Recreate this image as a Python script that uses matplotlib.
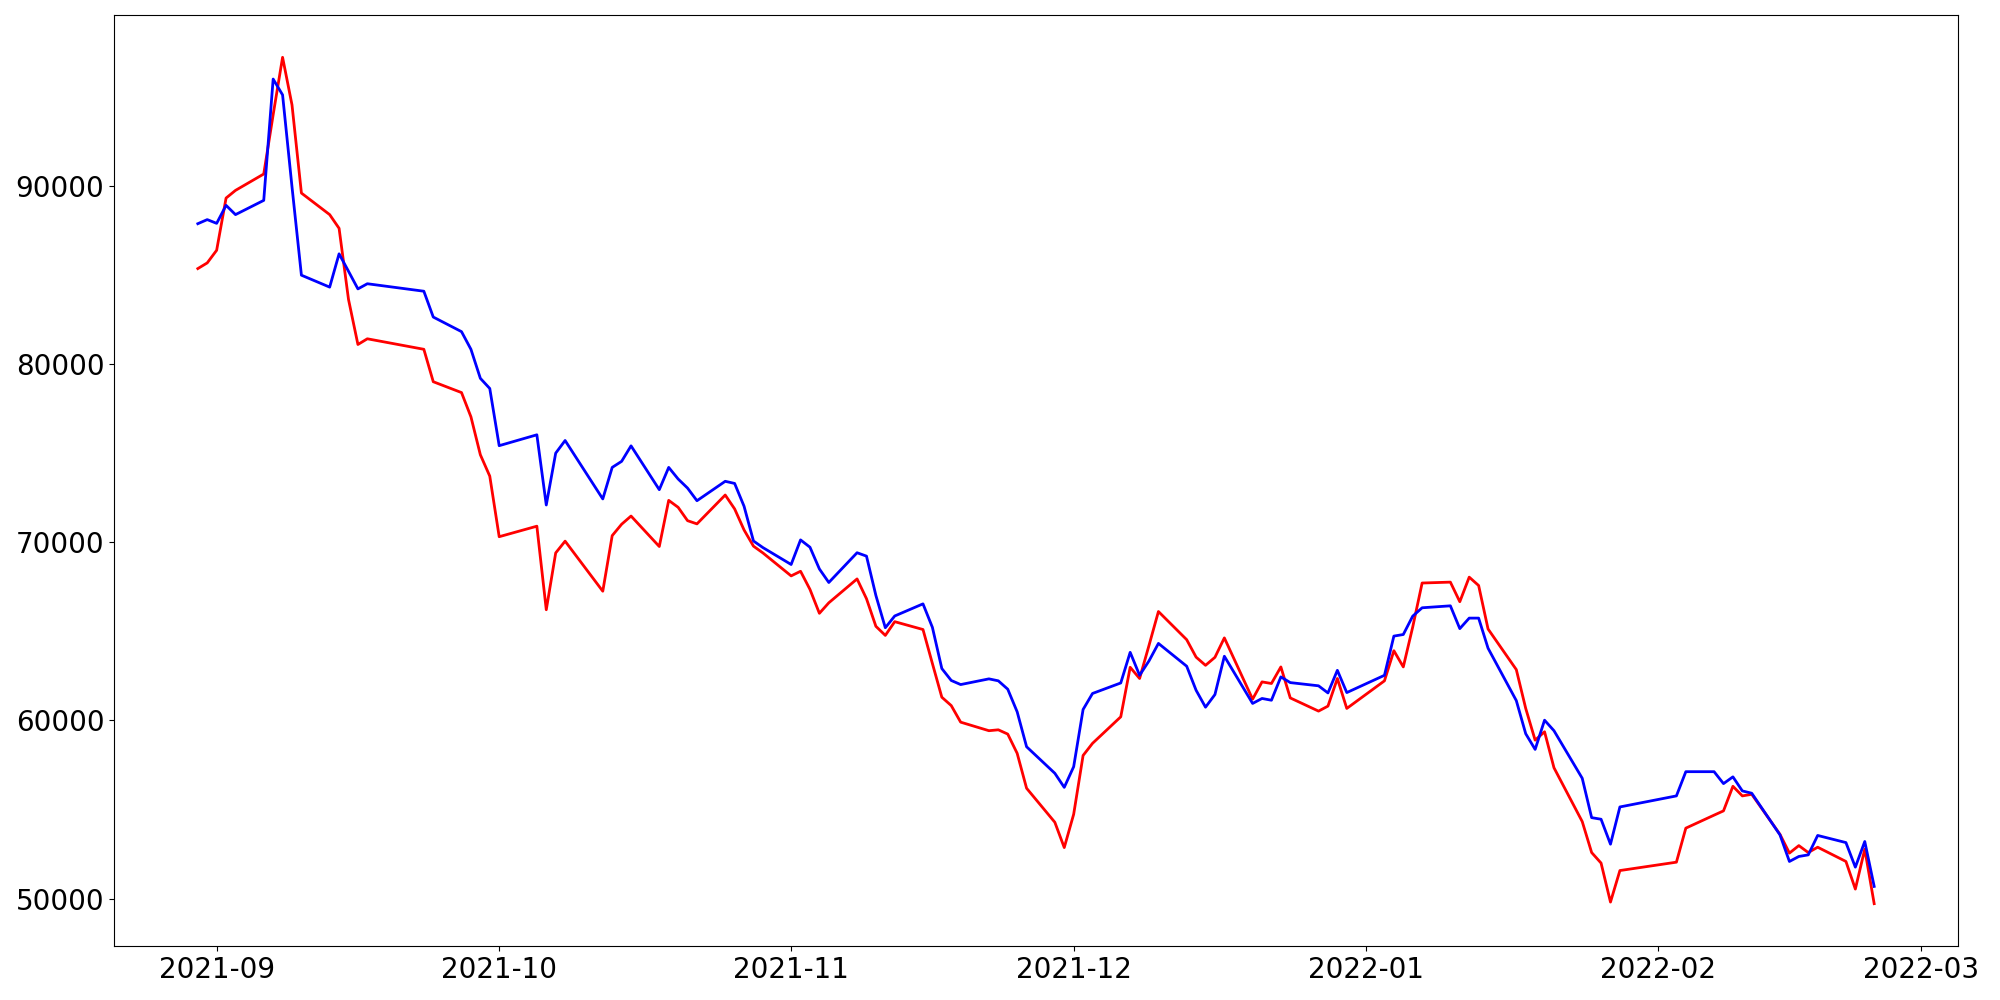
import matplotlib
matplotlib.use("Agg")
import matplotlib.pyplot as plt
import pandas as pd

# KRX trading days, Aug 30 2021 .. Feb 24 2022
krx_holidays = ['2021-09-20', '2021-09-21', '2021-09-22', '2021-10-04',
                '2021-10-11', '2021-12-31', '2022-01-31', '2022-02-01',
                '2022-02-02']
dates = pd.bdate_range('2021-08-30', '2022-02-24', freq='C',
                       holidays=krx_holidays)

blue_values = [
    87880, 88110,
    # Sep
    87900, 88910, 88390, 89190, 96000, 95110, 89950, 84990, 84320, 86190,
    85210, 84220, 84510, 84090, 82640, 81820, 80830, 79200, 78630,
    # Oct
    75420, 76030, 72090, 75000, 75710, 72430, 74200, 74540, 75410, 72950,
    74200, 73550, 73040, 72330, 73420, 73300, 72020, 70070, 69700,
    # Nov
    68750, 70130, 69720, 68500, 67740, 69410, 69220, 67010, 65200, 65860,
    66540, 65220, 62910, 62240, 62010, 62330, 62220, 61750, 60480, 58520,
    57030, 56240,
    # Dec
    57400, 60610, 61510, 62100, 63820, 62530, 63340, 64320, 63040, 61690,
    60740, 61450, 63600, 60950, 61230, 61130, 62440, 62120, 61940, 61540,
    62810, 61560,
    # Jan
    62530, 64730, 64820, 65850, 66320, 66430, 65150, 65740, 65740, 64050,
    61110, 59250, 58370, 60010, 59420, 56750, 54540, 54450, 53050, 55140,
    # Feb
    55760, 57120, 57120, 56450, 56830, 56040, 55910, 53570, 52080, 52360,
    52450, 53540, 53140, 51760, 53200, 50680,
]

red_values = [
    85360, 85680,
    # Sep
    86390, 89320, 89750, 90670, 94000, 97220, 94550, 89600, 88390, 87620,
    83630, 81100, 81420, 80830, 79010, 78400, 77040, 74910, 73710,
    # Oct
    70310, 70900, 66210, 69400, 70060, 67250, 70370, 71010, 71470, 69760,
    72350, 71960, 71210, 71030, 72650, 71870, 70690, 69780, 69400,
    # Nov
    68110, 68370, 67350, 66010, 66600, 67940, 66830, 65280, 64770, 65540,
    65100, 63190, 61300, 60830, 59900, 59420, 59470, 59230, 58150, 56190,
    54280, 52860,
    # Dec
    54730, 58030, 58710, 60200, 62980, 62350, 64210, 66110, 64530, 63550,
    63090, 63540, 64630, 61190, 62160, 62070, 63000, 61260, 60520, 60800,
    62350, 60670,
    # Jan
    62220, 63910, 63000, 65240, 67710, 67760, 66660, 68040, 67570, 65130,
    62850, 60670, 58890, 59360, 57340, 54320, 52580, 51990, 49800, 51570,
    # Feb
    52040, 53950, 54680, 54920, 56300, 55760, 55850, 53600, 52550, 52970,
    52580, 52880, 52080, 50530, 52770, 49710,
]

assert len(dates) == len(blue_values) == len(red_values)

fig, ax = plt.subplots(figsize=(20, 10))
ax.plot(dates, red_values, color='red', linewidth=2)
ax.plot(dates, blue_values, color='blue', linewidth=2)
ax.tick_params(labelsize=20)
fig.subplots_adjust(left=0.057, right=0.979, top=0.985, bottom=0.054)
fig.savefig('out.png', dpi=100)
